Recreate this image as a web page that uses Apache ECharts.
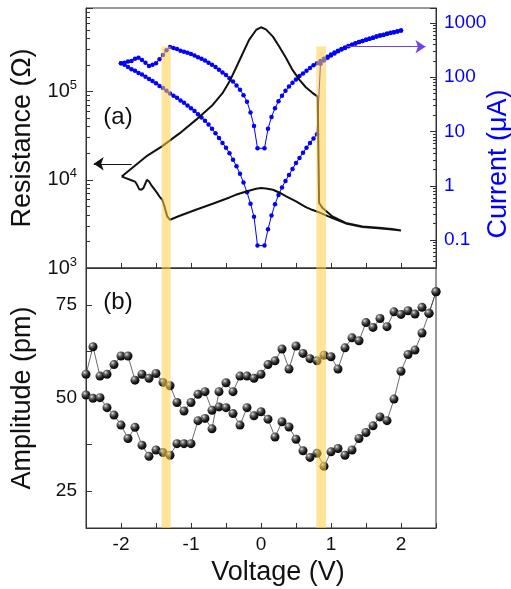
<!DOCTYPE html>
<html><head><meta charset="utf-8">
<script src="https://cdn.jsdelivr.net/npm/echarts@6/dist/echarts.min.js"></script>
<style>html,body{margin:0;padding:0;background:#fff}#c{width:511px;height:589px}</style>
</head><body><div id="c"></div><script>
// ---------- data ----------
// voltage grid of the current sweep (V), positive half; the negative half is its mirror
const vPos = [0.05,0.1,0.15,0.2,0.25,0.3,0.35,0.4,0.45,0.5,0.55,0.6,0.65,0.7,0.75,0.8,0.85,0.9,0.95,1,
              1.05,1.1,1.15,1.2,1.25,1.3,1.35,1.4,1.45,1.5,1.55,1.6,1.65,1.7,1.75,1.8,1.85,1.9,1.95,2];
// current (uA), each aligned with vPos (negative branches at -vPos)
const curPosFwd = [0.079,0.158,0.282,0.457,0.676,0.933,1.23,1.58,2.04,2.63,3.24,4.07,5.01,6.17,7.41,8.91,178,204,229,251,
                   275,302,324,347,372,398,417,447,468,490,513,537,562,589,603,631,661,676,708,724];
const curPosRev = [4.90,11.2,18.6,26.9,36.3,45.7,56.2,67.6,79.4,91.2,105,117,132,148,166,182,200,219,240,263,
                   285,309,331,355,376,398,422,447,468,490,513,537,562,589,610,631,653,676,700,724];
const curNegFwd = [4.90,12.6,22.4,35.5,46.8,58.9,70.8,83.2,95.5,110,123,138,155,170,186,204,219,234,251,269,
                   282,295,309,331,347,363,316,257,214,182,170,162,186,209,229,219,200,195,186,182];
const curNegRev = [0.079,0.269,0.468,0.759,1.15,1.66,2.29,3.02,3.98,5.01,6.17,7.59,9.33,11.2,13.5,15.8,18.2,20.9,24.0,26.9,
                   30.2,33.9,37.2,41.7,45.7,50.1,56.2,63.1,69.2,77.6,85.1,93.3,102,112,120,132,141,155,170,182];
// resistance (Ohm) along the sweep path
const resHrsV   = [-1.99,-1.64,-1.42,-1.16,-0.93,-0.69,-0.55,-0.45,-0.36,-0.26,-0.17,-0.07,0,0.07,0.17,0.26,0.36,0.45,0.55,0.64,0.73,0.81];
const resHrsOhm = [10900,18400,23800,33800,47800,70600,95900,130000,184000,272000,386000,500000,536000,508000,420000,324000,239000,176000,136000,112000,97500,87700];
const resSetV   = [0.83,0.88,1.02,1.21,1.45,1.68,1.87,2.0];
const resSetOhm = [5450,4780,3840,3240,2960,2860,2770,2670];
const resLrsV   = [2.0,1.87,1.68,1.45,1.21,1.02,0.83,0.73,0.64,0.50,0.36,0.26,0.17,0.07,0,-0.07,-0.21,-0.36,-0.45,-0.69,
                   -0.93,-1.16,-1.30,-1.34,-1.38,-1.41,-1.45,-1.50,-1.57,-1.60,-1.63,-1.65,-1.68,-1.71,-1.74,-1.77,-1.80,-1.87,-1.94,-1.99];
const resLrsOhm = [2640,2740,2820,2920,3200,3680,4270,4570,4900,5680,6470,7180,7710,7980,8050,7910,7380,6760,6310,5350,
                   4570,3910,3520,3840,5010,5940,6460,7380,8770,9550,10000,9550,8050,7710,7830,8770,9550,10000,10500,10900];
// amplitude (pm)
const ampV = [-2.5,-2.4,-2.3,-2.2,-2.1,-2,-1.9,-1.8,-1.7,-1.6,-1.5,-1.4,-1.3,-1.2,-1.1,-1,-0.9,-0.8,-0.7,-0.6,
              -0.5,-0.4,-0.3,-0.2,-0.1,0,0.1,0.2,0.3,0.4,0.5,0.6,0.7,0.8,0.9,1,1.1,1.2,1.3,1.4,
              1.5,1.6,1.7,1.8,1.9,2,2.1,2.2,2.3,2.4,2.5];
const ampP = [56.4,63.8,55.9,56.4,59.0,61.3,61.3,54.8,56.4,55.3,56.6,54.2,53.3,48.8,46.5,48.8,51.0,51.7,46.7,47.6,
              47.4,45.8,42.7,47.4,45.2,46.3,44.3,39.5,43.6,42.2,38.9,35.8,34.0,35.1,31.6,35.5,36.4,34.6,36.0,39.1,
              40.7,42.5,44.9,43.9,49.7,57.2,61.7,62.9,67.5,72.8,78.6];
const ampQ = [50.8,49.9,50.1,47.4,45.4,42.7,39.1,42.1,37.3,34.3,36.0,35.3,34.6,37.7,37.7,37.7,43.9,44.5,41.7,51.7,
              54.1,51.7,55.9,55.9,55.3,56.4,59.0,60.0,63.2,57.8,64.0,62.0,60.6,60.0,61.5,61.1,57.8,63.5,66.2,65.4,
              70.3,69.0,71.4,69.2,73.2,72.5,73.5,72.6,74.4,72.8,78.6];
// highlighted voltage bands (V)
const bands = [[-1.42,-1.29],[0.79,0.93]];
const bandTopRes = 324000;
// annotation arrows
const arrowRes = {from: -1.85, to: -2.39, at: 15200};
const arrowCur = {from: 1.23, to: 2.35, at: 366};
// axis ranges / ticks
const resMin = 1000, resMax = 887000;
const curMin = 0.0305, curMax = 1890;
const curLabels = {'-1':'0.1','0':'1','1':'10','2':'100','3':'1000'};
const xLabels = [-2,-1,0,1,2];
const ampTicks = [25,37.5,50,62.5,75];
const ampLabels = [25,50,75];

// ---------- build ----------
const FONT = '"Liberation Sans", Arial, Helvetica, sans-serif';
const AX = '#333';
const BLUE = '#0000ff';
const BAND = 'rgba(255,205,70,0.55)';
const log10 = Math.log10;
const isPow10 = v => Math.abs(log10(v) - Math.round(log10(v))) < 1e-6;
function minorTicks(lo, hi) {
  const out = [];
  for (let d = Math.floor(log10(lo)); d <= Math.ceil(log10(hi)); d++)
    for (let k = 2; k <= 9; k++) { const v = k * Math.pow(10, d); if (v > lo && v < hi) out.push(log10(v)); }
  return out;
}
const curData = [];
for (let i = vPos.length - 1; i >= 0; i--) curData.push([-vPos[i], curNegRev[i]]);
for (let i = 0; i < vPos.length; i++) curData.push([vPos[i], curPosFwd[i]]);
for (let i = vPos.length - 1; i >= 0; i--) curData.push([vPos[i], curPosRev[i]]);
for (let i = 0; i < vPos.length; i++) curData.push([-vPos[i], curNegFwd[i]]);
const resData = [];
resHrsV.forEach((v, i) => resData.push([v, resHrsOhm[i]]));
resSetV.forEach((v, i) => resData.push([v, resSetOhm[i]]));
resLrsV.forEach((v, i) => resData.push([v, resLrsOhm[i]]));

const sphere = {type:'radial', x:0.35, y:0.3, r:0.75, colorStops:[
  {offset:0, color:'#e6e6e6'},{offset:0.25, color:'#777'},{offset:0.6, color:'#222'},{offset:1, color:'#000'}]};

const chart = echarts.init(document.getElementById('c'), null, {renderer:'canvas'});
const xBase = {type:'value', min:-2.5, max:2.5, interval:0.5, nameMoveOverlap:false,
  axisLine:{onZero:false, lineStyle:{color:AX}}, axisTick:{inside:true, length:5, lineStyle:{color:AX}}, splitLine:{show:false}};
const hidden = {type:'value', axisLine:{show:false, onZero:false}, axisLabel:{show:false}, splitLine:{show:false}};
chart.setOption({
  animation:false,
  textStyle:{fontFamily:FONT},
  grid:[
    {left:86, right:75, top:8, height:260, show:true, borderColor:AX, borderWidth:1, containLabel:false, outerBoundsMode:'none'},
    {left:86, right:75, top:268, height:260, show:true, borderColor:AX, borderWidth:1, containLabel:false, outerBoundsMode:'none'}
  ],
  xAxis:[
    Object.assign({gridIndex:0, axisLabel:{show:false}}, xBase),
    Object.assign({gridIndex:1, axisLabel:{customValues:xLabels, fontSize:19, color:'#111', margin:7, fontFamily:FONT},
      name:'Voltage (V)', nameLocation:'middle', nameGap:31,
      nameTextStyle:{fontSize:27, color:'#111', fontFamily:FONT, padding:[0,0,0,34]}}, xBase)
  ],
  yAxis:[
    {gridIndex:0, type:'log', logBase:10, min:resMin, max:resMax, position:'left', nameMoveOverlap:false,
     axisLine:{show:true, onZero:false, lineStyle:{color:AX}}, axisTick:{inside:true, length:7, lineStyle:{color:AX}}, splitLine:{show:false},
     axisLabel:{margin:9, formatter:v => isPow10(v) ? '{b|10}{s|' + Math.round(log10(v)) + '}' : '',
       rich:{b:{fontSize:20, fontFamily:FONT, color:'#111'}, s:{fontSize:13, fontFamily:FONT, color:'#111', padding:[0,0,12,0]}}},
     name:'Resistance (Ω)', nameLocation:'middle', nameGap:50,
     nameTextStyle:{fontSize:27, color:'#111', fontFamily:FONT}},
    {gridIndex:0, type:'log', logBase:10, min:curMin, max:curMax, position:'right', nameMoveOverlap:false,
     axisLine:{show:true, onZero:false, lineStyle:{color:AX}}, axisTick:{inside:true, length:6, lineStyle:{color:AX}}, splitLine:{show:false},
     axisLabel:{margin:8, fontSize:19, color:BLUE, fontFamily:FONT,
       formatter:v => isPow10(v) ? (curLabels[String(Math.round(log10(v)))] || '') : ''},
     name:'Current (μA)', nameLocation:'middle', nameGap:49,
     nameTextStyle:{fontSize:27, color:BLUE, fontFamily:FONT, padding:[0,52,0,0]}},
    Object.assign({gridIndex:0, position:'left', min:log10(resMin), max:log10(resMax),
      axisTick:{show:true, inside:true, length:4, customValues:minorTicks(resMin, resMax), lineStyle:{color:AX}}}, hidden),
    Object.assign({gridIndex:0, position:'right', min:log10(curMin), max:log10(curMax),
      axisTick:{show:true, inside:true, length:3, customValues:minorTicks(curMin, curMax), lineStyle:{color:AX}}}, hidden),
    {gridIndex:1, type:'value', min:15, max:85, position:'left', nameMoveOverlap:false,
     axisLine:{show:true, onZero:false, lineStyle:{color:AX}}, axisTick:{inside:true, length:6, customValues:ampTicks, lineStyle:{color:AX}},
     splitLine:{show:false},
     axisLabel:{customValues:ampLabels, fontSize:19, color:'#111', margin:9, fontFamily:FONT},
     name:'Amplitude (pm)', nameLocation:'middle', nameGap:50,
     nameTextStyle:{fontSize:27, color:'#111', fontFamily:FONT, padding:[0,0,0,0]}}
  ],
  series:[
    {type:'line', name:'current', xAxisIndex:0, yAxisIndex:1, data:curData, z:2,
     symbol:'circle', symbolSize:4.5, itemStyle:{color:BLUE}, lineStyle:{color:BLUE, width:1},
     emphasis:{disabled:true},
     markLine:{silent:true, symbol:['none','arrow'], symbolSize:10, label:{show:false},
       lineStyle:{color:'#7040e8', width:1.2, type:'solid'},
       data:[[{coord:[arrowCur.from, arrowCur.at]},{coord:[arrowCur.to, arrowCur.at]}]]}},
    {type:'line', name:'resistance', xAxisIndex:0, yAxisIndex:0, data:resData, z:3,
     symbol:'none', lineStyle:{color:'#111', width:2}, emphasis:{disabled:true},
     markLine:{silent:true, symbol:['none','arrow'], symbolSize:10, label:{show:false},
       lineStyle:{color:'#111', width:1.2, type:'solid'},
       data:[[{coord:[arrowRes.from, arrowRes.at]},{coord:[arrowRes.to, arrowRes.at]}]]}},
    {type:'line', name:'ampP', xAxisIndex:1, yAxisIndex:4, data:ampV.map((v,i)=>[v, ampP[i]]), z:3,
     symbol:'circle', symbolSize:9, itemStyle:{color:sphere}, lineStyle:{color:'#444', width:0.8}, emphasis:{disabled:true}},
    {type:'line', name:'ampQ', xAxisIndex:1, yAxisIndex:4, data:ampV.map((v,i)=>[v, ampQ[i]]), z:3,
     symbol:'circle', symbolSize:9, itemStyle:{color:sphere}, lineStyle:{color:'#444', width:0.8}, emphasis:{disabled:true}},
    {type:'line', name:'bandTop', xAxisIndex:0, yAxisIndex:0, data:[], z:10,
     markArea:{silent:true, z:10, itemStyle:{color:BAND},
       data:bands.map(b => [{xAxis:b[0], yAxis:bandTopRes},{xAxis:b[1], yAxis:resMin}])}},
    {type:'line', name:'bandBottom', xAxisIndex:1, yAxisIndex:4, data:[], z:10,
     markArea:{silent:true, z:10, itemStyle:{color:BAND},
       data:bands.map(b => [{xAxis:b[0], yAxis:85},{xAxis:b[1], yAxis:15}])}}
  ],
  graphic:[
    {type:'text', x:118, y:117, z:20, style:{text:'(a)', fill:'#111', font:'24px ' + FONT, align:'center', verticalAlign:'middle'}},
    {type:'text', x:118, y:302, z:20, style:{text:'(b)', fill:'#111', font:'24px ' + FONT, align:'center', verticalAlign:'middle'}}
  ]
});
</script></body></html>
